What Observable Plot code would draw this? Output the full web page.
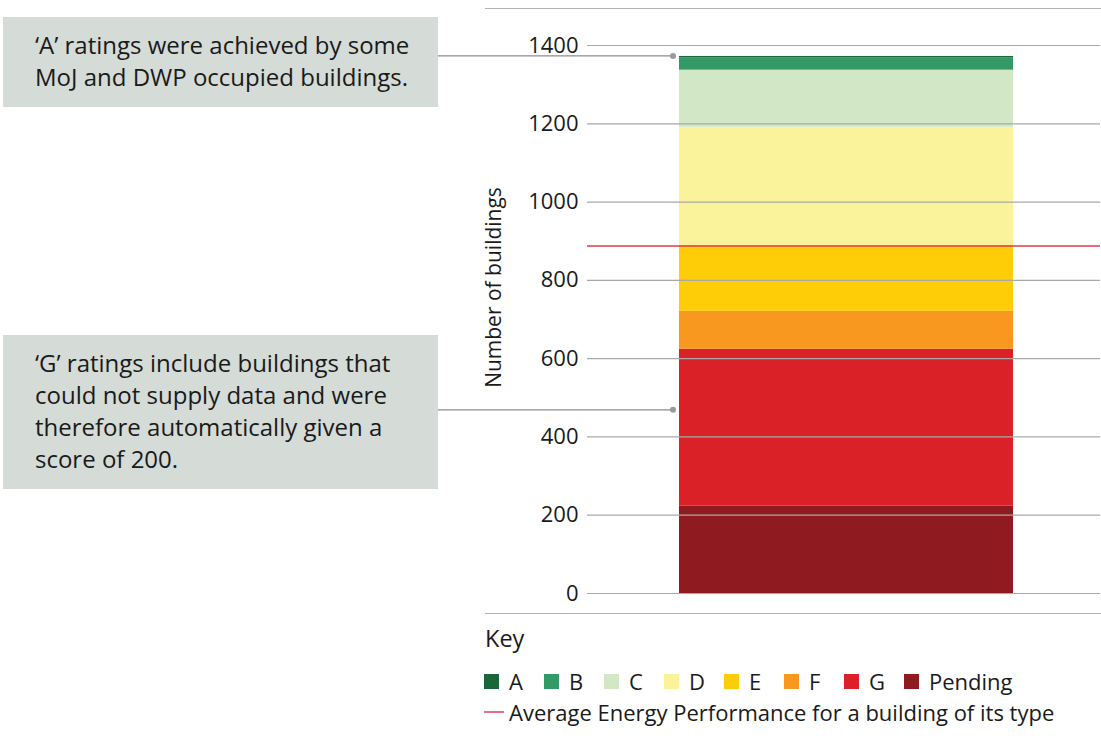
<!DOCTYPE html>
<html>
<head>
<meta charset="utf-8">
<script src="https://cdn.jsdelivr.net/npm/d3@7"></script>
<script src="https://cdn.jsdelivr.net/npm/@observablehq/plot@0.6"></script>
<style>
  body { margin: 0; background: #fff; font-family: "Open Sans", sans-serif; color: #1a1a1a; }
  #wrap { position: relative; width: 1101px; height: 742px; overflow: hidden; }
  #chart { position: absolute; left: 0; top: 0; }
  .note { position: absolute; left: 3px; width: 435px; box-sizing: border-box; background: #d5dbd7;
          padding: 12px 0 0 32px; font-size: 24px; line-height: 32px; color: #1a1a1a; white-space: nowrap; }
  .hline { position: absolute; left: 485px; width: 616px; height: 0; border-top: 1.5px solid #b3b3b3; }
  #key { position: absolute; left: 485px; top: 623px; font-size: 23.5px; line-height: 30px; }
  #keyRow { position: absolute; left: 484px; top: 666px; display: flex; font-size: 22px; line-height: 30px; }
  .item { display: flex; align-items: center; width: 60px; flex: 0 0 auto; }
  .item:last-child { width: auto; }
  .sw { width: 15px; height: 15px; margin-right: 10px; flex: 0 0 auto; }
  #avgRow { position: absolute; left: 484px; top: 697px; display: flex; align-items: center; font-size: 22px; line-height: 30px; }
  .avgSw { width: 20px; height: 0; border-top: 2px solid #ea7080; margin-right: 5px; }
</style>
</head>
<body>
<div id="wrap">
  <div id="chart"></div>
</div>
<script>
// Buildings by energy rating, stacked from the bottom up
const ratings = ["Pending", "G", "F", "E", "D", "C", "B", "A"];
const counts = [223, 401, 97, 168, 302, 146, 31, 4];
const ratingColors = ["#8f1a1f", "#da2128", "#f8981f", "#fecd08", "#faf39c", "#d1e7c6", "#339966", "#19663a"];

// Average energy performance reference line
const averagePerformance = [888];

// Axis ticks
const yTicks = [0, 200, 400, 600, 800, 1000, 1200, 1400];
const yLabel = "Number of buildings";

// Key
const keyTitle = "Key";
const keyOrder = ["A", "B", "C", "D", "E", "F", "G", "Pending"];
const averageLabel = "Average Energy Performance for a building of its type";

// Callout notes and the building counts they point at
const noteLines = [
  ["‘A’ ratings were achieved by some", "MoJ and DWP occupied buildings."],
  ["‘G’ ratings include buildings that", "could not supply data and were", "therefore automatically given a", "score of 200."]
];
const noteTops = [17, 335];
const noteTargets = [1372, 468];

const group = "All buildings";
const data = ratings.map((r, i) => ({ rating: r, count: counts[i], group }));

const chart = Plot.plot({
  width: 1101,
  height: 620,
  marginLeft: 587,
  marginRight: 1,
  marginTop: 45,
  marginBottom: 27,
  style: { fontFamily: "Open Sans, sans-serif", fontSize: "22px", color: "#1a1a1a", background: "transparent" },
  x: { domain: [group], range: [679, 1013], padding: 0, axis: null },
  y: { domain: [0, 1400] },
  color: { domain: ratings, range: ratingColors },
  marks: [
    Plot.barY(data, { x: "group", y: "count", fill: "rating" }),
    Plot.gridY(yTicks, { stroke: "#a9a9a9", strokeOpacity: 1, strokeWidth: 1.2 }),
    Plot.ruleY(averagePerformance, { stroke: "#e5394a", strokeWidth: 1.5 }),
    Plot.axisY(yTicks, { tickSize: 0, tickPadding: 9, fontSize: 22, fill: "#1a1a1a", label: null, tickFormat: d => String(d) }),
    Plot.text([yLabel], { frameAnchor: "left", textAnchor: "middle", rotate: -90, dx: -93, dy: -32, fontSize: 21, fill: "#1a1a1a" })
  ]
});
document.getElementById("chart").appendChild(chart);

const wrap = document.getElementById("wrap");

// Thin rules framing the chart area
[8, 613].forEach(t => {
  const d = document.createElement("div");
  d.className = "hline";
  d.style.top = t + "px";
  wrap.appendChild(d);
});

// Callout boxes
noteLines.forEach((lines, i) => {
  const n = document.createElement("div");
  n.className = "note";
  n.style.top = noteTops[i] + "px";
  n.style.height = (lines.length * 32 + 26) + "px";
  n.innerHTML = lines.map(l => l.replace(/&/g, "&amp;").replace(/</g, "&lt;")).join("<br>");
  wrap.appendChild(n);
});

// Leader lines from the callouts to the bar, placed with the chart's scales
const ys = chart.scale("y");
const xs = chart.scale("x");
const barLeft = xs.apply(group);
const svg = d3.select(chart);
const leaders = svg.append("g");
noteTargets.forEach(v => {
  const yy = ys.apply(v);
  leaders.append("line")
    .attr("x1", 438).attr("x2", barLeft - 6)
    .attr("y1", yy).attr("y2", yy)
    .attr("stroke", "#8c8c8c").attr("stroke-width", 1.2);
  leaders.append("circle")
    .attr("cx", barLeft - 6).attr("cy", yy).attr("r", 3)
    .attr("fill", "#9a9a9a");
});

// Key
const key = document.createElement("div");
key.id = "key";
key.textContent = keyTitle;
wrap.appendChild(key);

const row = document.createElement("div");
row.id = "keyRow";
keyOrder.forEach(k => {
  const it = document.createElement("div");
  it.className = "item";
  const sw = document.createElement("div");
  sw.className = "sw";
  sw.style.background = ratingColors[ratings.indexOf(k)];
  const lab = document.createElement("span");
  lab.textContent = k;
  it.appendChild(sw);
  it.appendChild(lab);
  row.appendChild(it);
});
wrap.appendChild(row);

const avg = document.createElement("div");
avg.id = "avgRow";
const asw = document.createElement("div");
asw.className = "avgSw";
const alab = document.createElement("span");
alab.textContent = averageLabel;
avg.appendChild(asw);
avg.appendChild(alab);
wrap.appendChild(avg);
</script>
</body>
</html>
